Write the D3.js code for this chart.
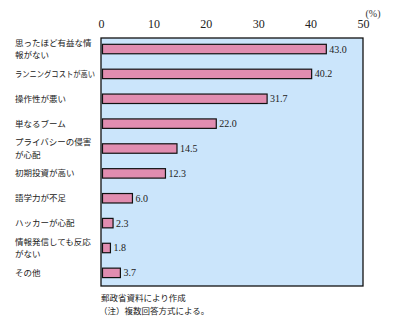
<!DOCTYPE html>
<html><head><meta charset="utf-8">
<script src="https://cdn.jsdelivr.net/npm/d3@7"></script>
<style>body{margin:0;background:#fff}svg{display:block}</style>
</head><body>
<script>
const categories = [
  ["思ったほど有益な情","報がない"],
  ["ランニングコストが高い"],
  ["操作性が悪い"],
  ["単なるブーム"],
  ["プライバシーの侵害","が心配"],
  ["初期投資が高い"],
  ["語学力が不足"],
  ["ハッカーが心配"],
  ["情報発信しても反応","がない"],
  ["その他"]
];
const values = [43.0, 40.2, 31.7, 22.0, 14.5, 12.3, 6.0, 2.3, 1.8, 3.7];
const ticks = [0, 10, 20, 30, 40, 50];
const unitLabel = "(%)";
const notes = ["郵政省資料により作成", "（注）複数回答方式による。"];

const W = 406, H = 324;
const svg = d3.select("body").append("svg").attr("width", W).attr("height", H);
const plot = {left: 101, right: 363, top: 38, bottom: 286};

const x = d3.scaleLinear().domain([0, 50]).range([plot.left, plot.right]);
const y = d3.scaleBand().domain(d3.range(values.length)).range([36.6, 285.3]).paddingInner(0.62).paddingOuter(0.31);

svg.append("rect").attr("x", plot.left).attr("y", plot.top)
  .attr("width", plot.right - plot.left).attr("height", plot.bottom - plot.top)
  .attr("fill", "#cbe5fb").attr("stroke", "#111").attr("stroke-width", 1.3);

// top axis
const axis = d3.axisTop(x).tickValues(ticks).tickSize(0).tickPadding(0).tickFormat(d3.format("d"));
const ag = svg.append("g").attr("transform", "translate(0,28)").call(axis);
ag.select(".domain").remove();
ag.selectAll("text").attr("font-family", "Liberation Serif, serif").attr("font-size", 12).attr("fill", "#222");

svg.append("text").attr("x", 373).attr("y", 17).attr("text-anchor", "middle")
  .attr("font-family", "Liberation Serif, serif").attr("font-size", 10).attr("fill", "#333").text(unitLabel);

// bars
svg.append("g").selectAll("rect").data(values).join("rect")
  .attr("x", x(0) + 1.5)
  .attr("y", (d, i) => y(i))
  .attr("width", d => x(d) - x(0) - 1.5)
  .attr("height", y.bandwidth())
  .attr("fill", "#e18db0").attr("stroke", "#111").attr("stroke-width", 1.2);

// value labels
svg.append("g").selectAll("text").data(values).join("text")
  .attr("x", d => x(d) + 3)
  .attr("y", (d, i) => y(i) + y.bandwidth() / 2 + 3.5)
  .attr("font-family", "Liberation Serif, serif").attr("font-size", 10).attr("fill", "#222")
  .text(d => d.toFixed(1));

// category labels
const fs = 8.5;
const lg = svg.append("g").attr("font-family", "Noto Sans CJK JP").attr("font-size", fs).attr("fill", "#222");
categories.forEach((lines, i) => {
  const c = y(i) + y.bandwidth() / 2;
  lines.forEach((t, j) => {
    const yy = lines.length === 1 ? c + 3 : c + 3 + (j === 0 ? -6.3 : 6.3);
    const el = lg.append("text").attr("x", 15).attr("y", yy).text(t);
    if (t.length * fs > 80) el.attr("textLength", 80).attr("lengthAdjust", "spacingAndGlyphs");
  });
});

// notes
svg.append("g").attr("font-family", "Noto Sans CJK JP").attr("font-size", 8.5).attr("fill", "#222")
  .selectAll("text").data(notes).join("text")
  .attr("x", (d, i) => i === 0 ? 101 : 99).attr("y", (d, i) => 301 + i * 12.5).text(d => d);
</script>
</body></html>
